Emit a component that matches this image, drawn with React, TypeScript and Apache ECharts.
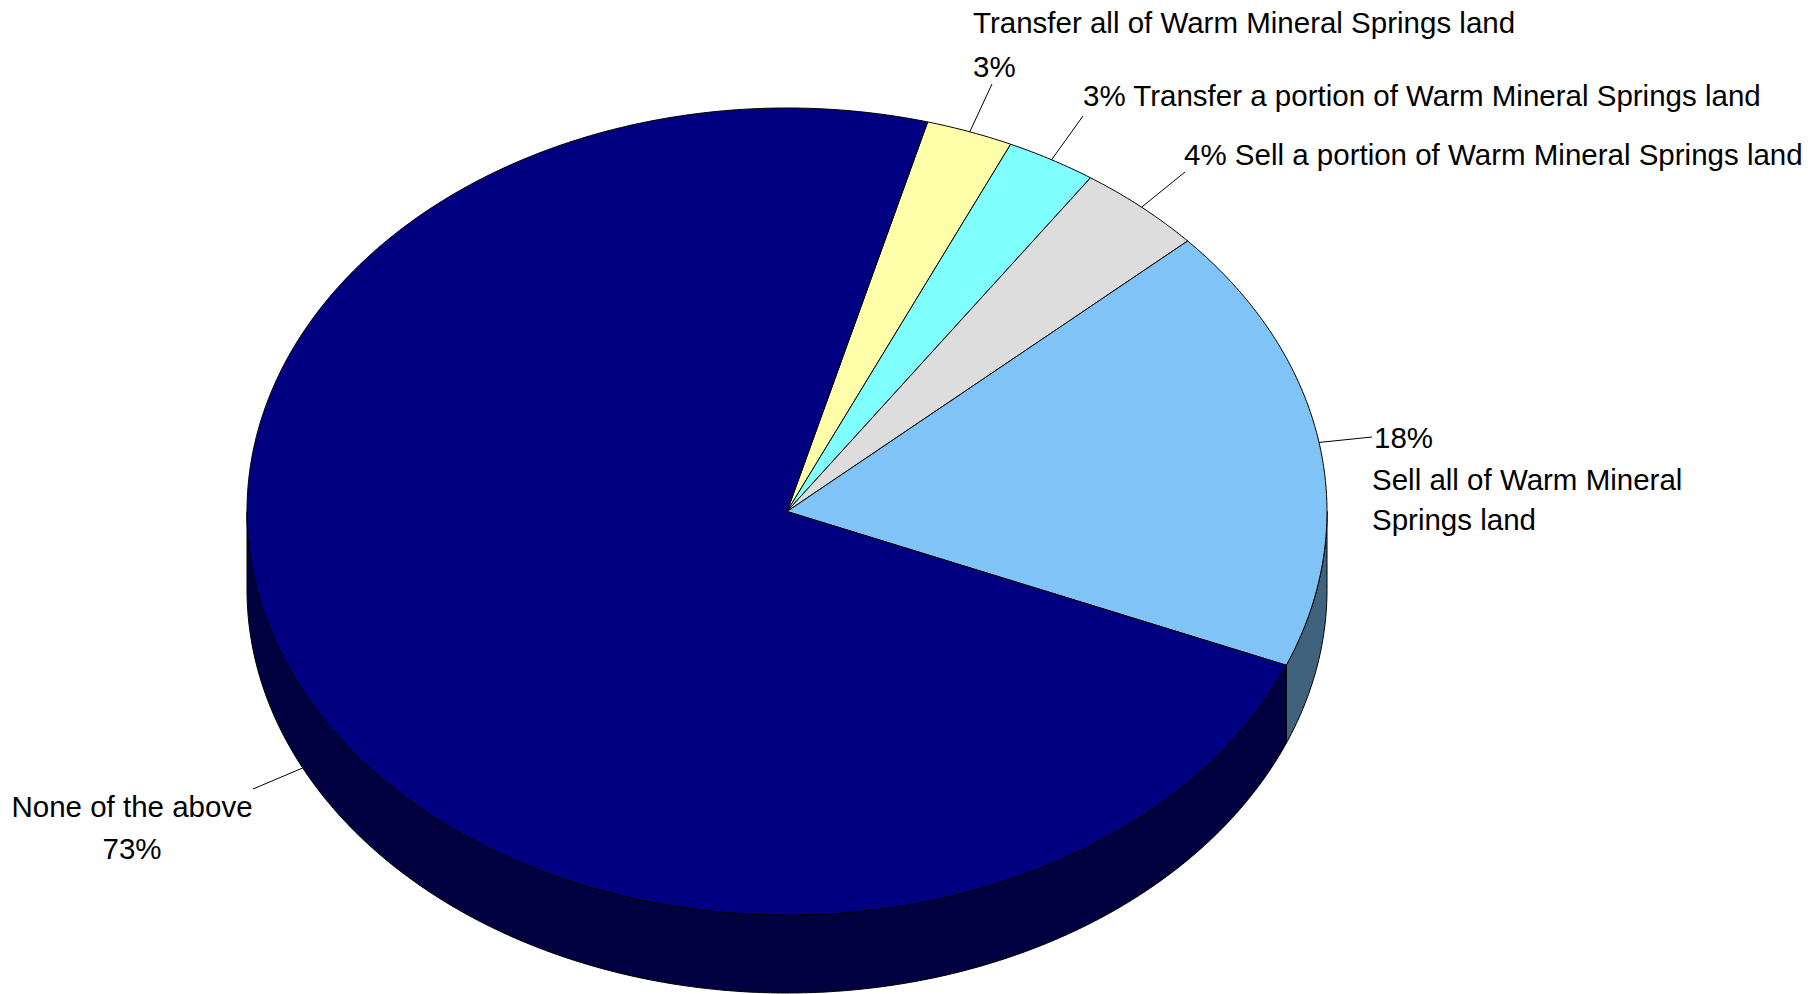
import React, { useEffect, useRef } from "react";
import * as echarts from "echarts";

// ---- data ----
const categories = [
  "Transfer all of Warm Mineral Springs land",
  "Transfer a portion of Warm Mineral Springs land",
  "Sell a portion of Warm Mineral Springs land",
  "Sell all of Warm Mineral Springs land",
  "None of the above",
];
const values = [2.6, 2.7, 3.8, 17.9, 72.9];

// ---- styles / layout ----
const topColors = ["#FFFFAA", "#80FFFF", "#DDDDDD", "#7FC3F7", "#000080"];
const sideColors = ["#80805A", "#408080", "#6E6E6E", "#40627C", "#000040"];
const START_ANGLE = 15.1; // degrees clockwise from 12 o'clock
const CX = 787;
const CY = 511.5;
const RX = 540;
const RY = 403.5;
const DEPTH = 78;
const FONT = "Liberation Sans";
const FONT_SIZE = 29.5;

type LabelLine = { t: string; x: number; y: number; align?: string; width?: number };
const labelLayout: { end: number[]; lines: LabelLine[] }[] = [
  {
    end: [992, 84],
    lines: [
      { t: "{name}", x: 973, y: 22 },
      { t: "{pct}", x: 973, y: 66 },
    ],
  },
  { end: [1083, 116], lines: [{ t: "{pct} {name}", x: 1083, y: 95 }] },
  { end: [1185, 172], lines: [{ t: "{pct} {name}", x: 1184, y: 154 }] },
  {
    end: [1372, 437],
    lines: [
      { t: "{pct}", x: 1374, y: 437 },
      { t: "{name}", x: 1372, y: 479, width: 335 },
    ],
  },
  {
    end: [253, 789],
    lines: [
      { t: "{name}", x: 132, y: 806, align: "center" },
      { t: "{pct}", x: 132, y: 848, align: "center" },
    ],
  },
];

function pt(theta: number, dy = 0): number[] {
  const r = (theta * Math.PI) / 180;
  return [CX + RX * Math.sin(r), CY - RY * Math.cos(r) + dy];
}
function arc(a1: number, a2: number, dy: number): number[][] {
  const n = Math.max(2, Math.ceil(Math.abs(a2 - a1) / 0.5));
  const pts: number[][] = [];
  for (let i = 0; i <= n; i++) pts.push(pt(a1 + ((a2 - a1) * i) / n, dy));
  return pts;
}

export default function App() {
  const ref = useRef<HTMLDivElement>(null);
  useEffect(() => {
    if (!ref.current) return;
    const chart = echarts.init(ref.current, undefined, { renderer: "svg" });
    const total = values.reduce((a, b) => a + b, 0);

    const renderItem = (params: any, api: any) => {
      const i = params.dataIndex;
      const v = api.value(0) as number;
      const before = values.slice(0, i).reduce((a, b) => a + b, 0);
      const a1 = START_ANGLE + (before / total) * 360;
      const a2 = a1 + (v / total) * 360;
      const children: any[] = [];
      // side wall (front half only)
      for (const k of [-360, 0, 360]) {
        const lo = Math.max(a1, 90 + k);
        const hi = Math.min(a2, 270 + k);
        if (hi > lo) {
          children.push({
            type: "polygon",
            shape: { points: arc(lo, hi, 0).concat(arc(hi, lo, DEPTH)) },
            style: { fill: sideColors[i], stroke: "#000", lineWidth: 1 },
          });
        }
      }
      // top face
      children.push({
        type: "polygon",
        shape: { points: [[CX, CY], ...arc(a1, a2, 0)] },
        style: { fill: topColors[i], stroke: "#000", lineWidth: 1 },
      });
      // leader line
      const mid = (a1 + a2) / 2;
      const m = ((mid % 360) + 360) % 360;
      const front = m > 90 && m < 270;
      const anchor = pt(mid, front ? DEPTH : 0);
      const lay = labelLayout[i];
      children.push({
        type: "line",
        shape: { x1: anchor[0], y1: anchor[1], x2: lay.end[0], y2: lay.end[1] },
        style: { stroke: "#000", lineWidth: 1 },
      });
      const pct = Math.round(v) + "%";
      for (const ln of lay.lines) {
        const text = ln.t.replace("{name}", categories[i]).replace("{pct}", pct);
        const style: any = {
          text,
          x: ln.x,
          y: ln.width ? ln.y - 20 : ln.y,
          fill: "#000",
          fontFamily: FONT,
          fontSize: FONT_SIZE,
          align: ln.align || "left",
          verticalAlign: ln.width ? "top" : "middle",
          lineHeight: 40,
        };
        if (ln.width) {
          style.width = ln.width;
          style.overflow = "break";
        }
        children.push({ type: "text", style });
      }
      return { type: "group", children };
    };

    chart.setOption({
      animation: false,
      backgroundColor: "#ffffff",
      series: [
        {
          type: "custom",
          coordinateSystem: "none",
          renderItem,
          data: values.map((v, i) => ({ name: categories[i], value: v })),
        },
      ],
    });
    return () => chart.dispose();
  }, []);
  return (
    <div
      ref={ref}
      style={{ position: "fixed", left: 0, top: 0, width: "1817px", height: "994px", background: "#fff" }}
    />
  );
}
